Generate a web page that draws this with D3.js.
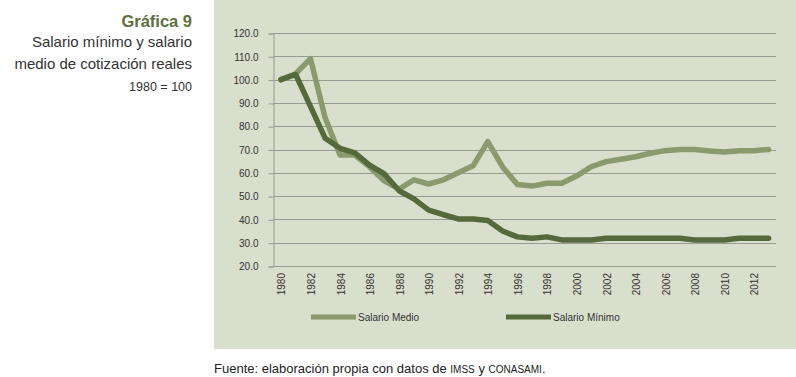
<!DOCTYPE html>
<html>
<head>
<meta charset="utf-8">
<script src="https://cdn.jsdelivr.net/npm/d3@7"></script>
<style>
  body { margin: 0; background: #fff; }
  text { font-family: "Liberation Sans", Arial, sans-serif; }
</style>
</head>
<body>
<div id="chart"></div>
<script>
// data (1980 = 100)
const years = d3.range(1980, 2014);
const salarioMedio = [100, 102.5, 109, 83.5, 67.6, 67.6, 62.5, 56.5, 53, 57,
    55.2, 57, 60, 63, 73.4, 62.5, 55, 54.3, 55.5, 55.5,
    58.6, 62.6, 64.8, 65.8, 66.9, 68.4, 69.5, 70, 70, 69.4,
    68.9, 69.5, 69.5, 70];
const salarioMinimo = [100, 102.2, 88.5, 74.8, 70.5, 68.6, 63.3, 59.5, 52.3, 48.8,
    44, 42, 40.2, 40.2, 39.5, 35, 32.5, 31.9, 32.5, 31.2,
    31.2, 31.2, 31.9, 31.9, 31.9, 31.9, 31.9, 31.9, 31.2, 31.2,
    31.2, 31.9, 31.9, 31.9];
const yTicks = [20, 30, 40, 50, 60, 70, 80, 90, 100, 110, 120];
const seriesNames = ["Salario Medio", "Salario Mínimo"];

const width = 796;
const height = 377;
const colorMedio = "#8b9a6c";
const colorMinimo = "#56693a";
const textColor = "#333";

const plotLeft = 273.5;
const plotRight = 776;
const plotTop = 33;
const plotBottom = 266;

const svg = d3.create("svg")
    .attr("width", width)
    .attr("height", height)
    .attr("viewBox", `0 0 ${width} ${height}`);

// panel background
svg.append("rect")
    .attr("x", 214)
    .attr("y", 0)
    .attr("width", width - 214)
    .attr("height", 349)
    .attr("fill", "#d9dfcd");

// title block on the left
const title = svg.append("g").attr("text-anchor", "end");
title.append("text")
    .attr("x", 192).attr("y", 27)
    .attr("font-size", 16.5).attr("font-weight", "bold")
    .attr("fill", "#5b7040")
    .text("Gráfica 9");
title.append("text")
    .attr("x", 192).attr("y", 47)
    .attr("font-size", 15).attr("fill", textColor)
    .text("Salario mínimo y salario");
title.append("text")
    .attr("x", 192).attr("y", 69)
    .attr("font-size", 15).attr("fill", textColor)
    .text("medio de cotización reales");
title.append("text")
    .attr("x", 192).attr("y", 91)
    .attr("font-size", 12.5).attr("fill", textColor)
    .text("1980 = 100");

// scales
const x = d3.scaleBand()
    .domain(years)
    .range([plotLeft, plotRight]);
const cx = d => x(d) + x.bandwidth() / 2;

const y = d3.scaleLinear()
    .domain([20, 120])
    .range([plotBottom, plotTop]);

// grid lines
svg.append("g")
    .selectAll("line")
    .data(yTicks)
    .join("line")
    .attr("x1", plotLeft)
    .attr("x2", plotRight)
    .attr("y1", d => Math.round(y(d)) + 0.5)
    .attr("y2", d => Math.round(y(d)) + 0.5)
    .attr("stroke", "#989a94")
    .attr("stroke-width", 1);

// y axis
svg.append("g")
    .attr("transform", `translate(${plotLeft},0.5)`)
    .call(d3.axisLeft(y).tickValues(yTicks).tickSize(5).tickPadding(10).tickFormat(d3.format(".1f")))
    .call(g => g.select(".domain").attr("stroke", "#989a94"))
    .call(g => g.selectAll(".tick line").attr("stroke", "#989a94"))
    .call(g => g.selectAll(".tick text")
        .attr("font-size", 10)
        .attr("font-family", "Liberation Sans, Arial, sans-serif")
        .attr("fill", textColor));

// x axis labels, every second year, rotated
svg.append("g")
    .selectAll("text")
    .data(years.filter((d, i) => i % 2 === 0))
    .join("text")
    .attr("transform", d => `translate(${cx(d) + 1},273) rotate(-90)`)
    .attr("text-anchor", "end")
    .attr("dy", "0.35em")
    .attr("font-size", 10)
    .attr("fill", textColor)
    .text(d => d);

// lines
const line = d3.line()
    .x((d, i) => cx(years[i]))
    .y(d => y(d));

svg.append("path")
    .datum(salarioMedio)
    .attr("fill", "none")
    .attr("stroke", colorMedio)
    .attr("stroke-width", 5.5)
    .attr("stroke-linejoin", "round")
    .attr("stroke-linecap", "round")
    .attr("d", line);

svg.append("path")
    .datum(salarioMinimo)
    .attr("fill", "none")
    .attr("stroke", colorMinimo)
    .attr("stroke-width", 5.5)
    .attr("stroke-linejoin", "round")
    .attr("stroke-linecap", "round")
    .attr("d", line);

// legend
const legend = svg.append("g")
    .selectAll("g")
    .data(seriesNames)
    .join("g")
    .attr("transform", (d, i) => `translate(${311 + i * 195},317)`);

legend.append("line")
    .attr("x1", 0).attr("x2", 45)
    .attr("stroke", (d, i) => i === 0 ? colorMedio : colorMinimo)
    .attr("stroke-width", 5);

legend.append("text")
    .attr("x", 47)
    .attr("dy", "0.35em")
    .attr("font-size", 10)
    .attr("fill", textColor)
    .text(d => d);

// source note with small caps
const source = svg.append("text")
    .attr("x", 214)
    .attr("y", 373)
    .attr("font-size", 13)
    .attr("fill", "#222");
source.append("tspan").text("Fuente: elaboración propia con datos de ");
source.append("tspan").attr("font-size", 10).text("IMSS");
source.append("tspan").text(" y ");
source.append("tspan").attr("font-size", 10).text("CONASAMI");
source.append("tspan").text(".");

document.getElementById("chart").appendChild(svg.node());
</script>
</body>
</html>
